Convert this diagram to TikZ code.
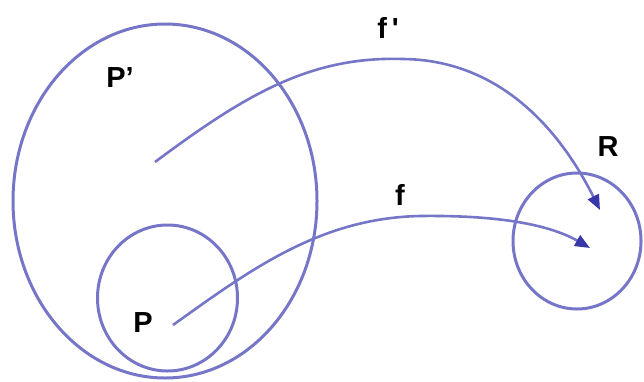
\documentclass[tikz,border=0pt]{standalone}
\usepackage{fontspec}
\setmainfont{Liberation Sans}
\usetikzlibrary{shapes.geometric,arrows.meta}
\definecolor{lineblue}{RGB}{118,118,200}
\definecolor{tipblue}{RGB}{55,55,170}
\tikzset{
  setline/.style={draw=lineblue, line width=3pt},
  setshape/.style={setline, ellipse, inner sep=0pt},
  mapline/.style={lineblue, line width=2.6pt, -{Triangle[length=15pt,width=12pt,color=tipblue]}},
  lbl/.style={font=\bfseries\fontsize{29}{30}\selectfont, text=black, inner sep=0pt}
}
\begin{document}
\begin{tikzpicture}[x=1pt,y=-1pt]
\useasboundingbox (0,0) rectangle (644,381);
\node[setshape, minimum width=304pt, minimum height=354pt] (Pp) at (165,201) {};
\node[setshape, minimum width=140pt, minimum height=146pt] (P) at (167.5,298) {};
\node[setshape, minimum width=128pt, minimum height=136pt] (R) at (577,241) {};
\node[lbl] (lPp) at (120,78) {P'};
\node[lbl] (lP) at (143,323) {P};
\node[lbl] (lR) at (608,147) {R};
\node[lbl] (lfp) at (388,28) {f\,\textquotesingle};
\node[lbl] (lf) at (400,195) {f};
\coordinate (sfp) at (155,162);
\coordinate (efp) at (600,210);
\coordinate (sf) at (173,325);
\coordinate (ef) at (590,248);
\draw[mapline] (sfp) .. controls (245,95) and (310,56) .. (403,59)
  .. controls (500,60) and (560,130) .. (efp);
\draw[mapline] (sf) .. controls (250,270) and (320,218) .. (420,216)
  .. controls (500,215) and (550,225) .. (ef);
\end{tikzpicture}
\end{document}
